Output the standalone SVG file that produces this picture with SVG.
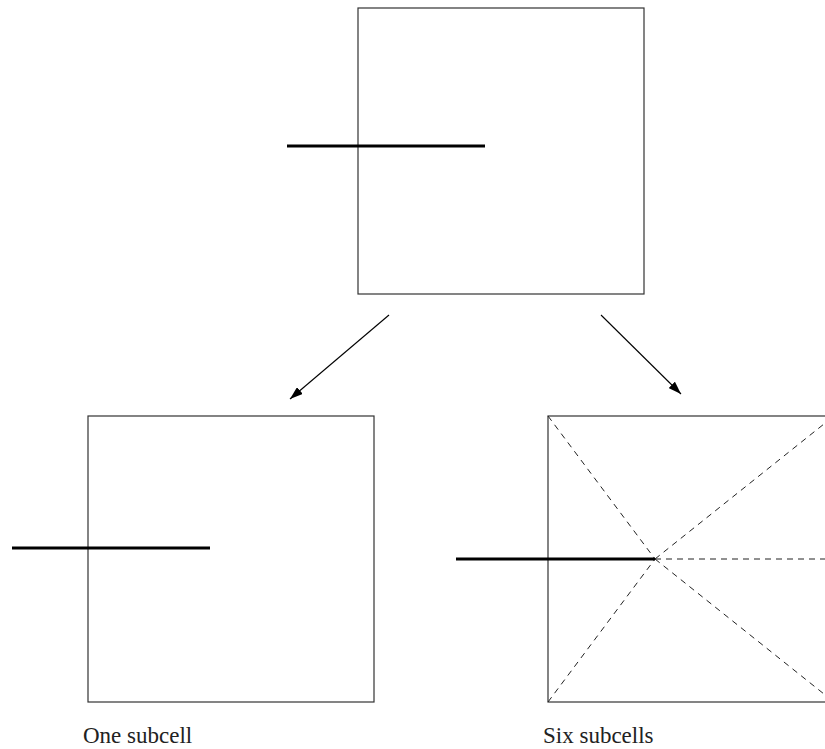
<svg xmlns="http://www.w3.org/2000/svg" width="825" height="749" viewBox="0 0 825 749">
  <style>
    .cell { fill: none; stroke: #333; stroke-width: 1.2; }
    .edge { stroke: #000; stroke-width: 3.2; stroke-linecap: butt; }
    .split { stroke: #222; stroke-width: 1; stroke-dasharray: 6 5; fill: none; }
    .conn { stroke: #000; stroke-width: 1.1; fill: none; marker-end: url(#arrow); }
    .caption { font-family: "Liberation Serif", "DejaVu Serif", serif; font-size: 23px; fill: #222; }
  </style>
  <defs>
    <marker id="arrow" viewBox="0 0 13 9" refX="13" refY="4.5" markerWidth="13" markerHeight="9" markerUnits="userSpaceOnUse" orient="auto">
      <path d="M0,0 L13,4.5 L0,9 z" fill="#000"/>
    </marker>
  </defs>

  <!-- parent cell -->
  <g id="parent">
    <rect class="cell" x="358" y="8" width="286" height="286"/>
    <line class="edge" x1="287" y1="146" x2="485" y2="146"/>
  </g>

  <!-- connectors -->
  <g id="connectors">
    <line class="conn" x1="389" y1="315" x2="290" y2="399"/>
    <line class="conn" x1="601" y1="315" x2="681" y2="394"/>
  </g>

  <!-- refinement: one subcell -->
  <g id="one-subcell">
    <rect class="cell" x="88" y="416" width="286" height="286"/>
    <line class="edge" x1="12" y1="548" x2="210" y2="548"/>
    <text class="caption" x="83" y="743">One subcell</text>
  </g>

  <!-- refinement: six subcells -->
  <g id="six-subcells">
    <rect class="cell" x="548" y="416" width="286" height="286"/>
    <line class="split" x1="548" y1="416" x2="655" y2="559"/>
    <line class="split" x1="548" y1="702" x2="655" y2="559"/>
    <line class="split" x1="655" y1="559" x2="834" y2="416"/>
    <line class="split" x1="655" y1="559" x2="834" y2="702"/>
    <line class="split" x1="655" y1="559" x2="834" y2="559" stroke="#777"/>
    <line class="edge" x1="456" y1="559" x2="655" y2="559"/>
    <text class="caption" x="543" y="743">Six subcells</text>
  </g>
</svg>
